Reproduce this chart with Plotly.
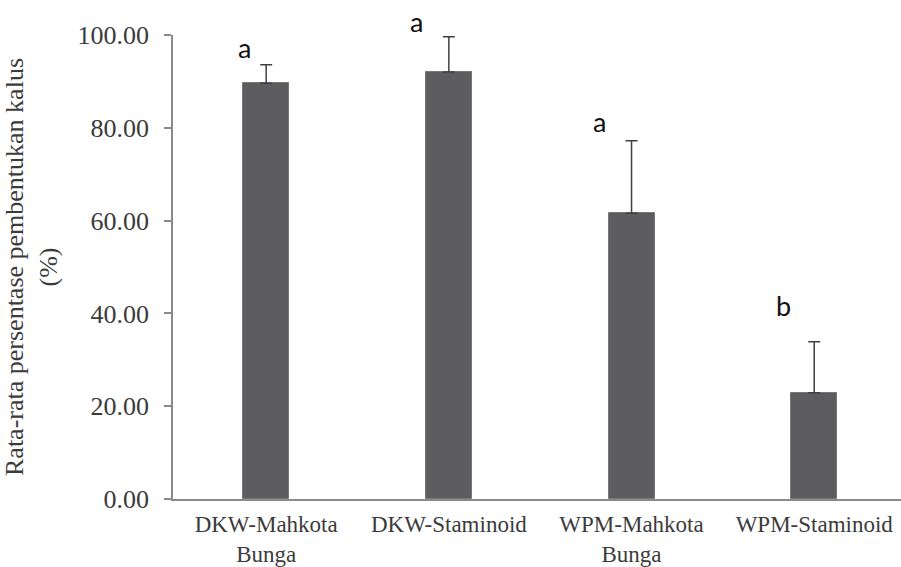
import plotly.graph_objects as go

# Callus formation by medium and explant source
categories = ["DKW-Mahkota<br>Bunga", "DKW-Staminoid", "WPM-Mahkota<br>Bunga", "WPM-Staminoid"]
mean_pct = [89.6, 92.0, 61.6, 22.9]
err_plus = [4.0, 7.6, 15.6, 11.0]
letters = ["a", "a", "a", "b"]
letter_y = [97.4, 103.0, 81.4, 41.7]
y_ticks = [0, 20, 40, 60, 80, 100]
y_tick_text = ["0.00", "20.00", "40.00", "60.00", "80.00", "100.00"]
y_max = 100

serif = "Liberation Serif, Times New Roman, serif"
axis_grey = "#8a8a8a"
text_grey = "#3b3b3b"

fig = go.Figure()
fig.add_trace(go.Bar(
    x=list(range(len(categories))),
    y=mean_pct,
    width=0.252,
    marker=dict(color="#5d5d5f", line=dict(color="#77777a", width=1)),
    error_y=dict(type="data", symmetric=False, array=err_plus,
                 arrayminus=[0] * len(err_plus),
                 color="#404040", thickness=1.5, width=6),
    showlegend=False,
))

# significance letters above each bar (placed in axis-domain units so
# letters above the top of the value range stay visible)
letter_shift = [-22, -32, -32, -31]
for i, (lab, ly) in enumerate(zip(letters, letter_y)):
    fig.add_annotation(x=i, xref="x", y=ly / y_max, yref="y domain",
                       text=lab, showarrow=False,
                       xshift=letter_shift[i], yanchor="middle",
                       font=dict(family="Lato, Open Sans, sans-serif", size=27, color="#111111"))

fig.update_layout(
    width=901, height=567,
    margin=dict(l=173, r=0, t=35, b=68),
    paper_bgcolor="white", plot_bgcolor="white",
    bargap=0,
    xaxis=dict(
        range=[-0.51, 3.475],
        tickmode="array",
        tickvals=list(range(len(categories))),
        ticktext=categories,
        showline=True, linecolor=axis_grey, linewidth=1.5,
        ticks="", showgrid=False, zeroline=False,
        ticklabelstandoff=4,
        tickfont=dict(family=serif, size=23, color=text_grey),
    ),
    yaxis=dict(
        range=[0, y_max],
        tickmode="array", tickvals=y_ticks, ticktext=y_tick_text,
        showline=True, linecolor=axis_grey, linewidth=1.5,
        ticks="outside", ticklen=7, tickcolor=axis_grey, tickwidth=1.5,
        ticklabelstandoff=10,
        showgrid=False, zeroline=False,
        tickfont=dict(family=serif, size=26, color=text_grey),
        title=dict(text="Rata-rata persentase pembentukan kalus<br>(%)",
                   font=dict(family=serif, size=26, color=text_grey),
                   standoff=14),
        automargin=False,
    ),
)

fig.write_html("out.html")
